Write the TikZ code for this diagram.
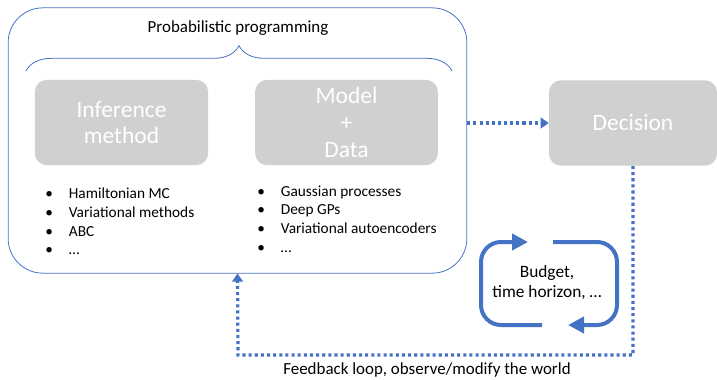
\documentclass[tikz,border=0pt]{standalone}
\usepackage{fontspec}
\setmainfont{Carlito}
\usepackage{xcolor}
\usetikzlibrary{arrows.meta, decorations.pathreplacing, positioning}
\definecolor{lineblue}{HTML}{4472C4}
\definecolor{boxgray}{HTML}{D0D0D0}

\begin{document}
\begin{tikzpicture}[x=0.75pt, y=-0.75pt,
    graybox/.style={fill=boxgray, rounded corners=9pt, text=white, align=center,
        font=\fontsize{17.6}{20}\selectfont, minimum height=64pt, inner sep=0pt},
    dots/.style={lineblue, line width=2.4pt, dash pattern=on 2.3pt off 2.3pt},
    dottip/.style={-{Triangle[length=6pt, width=8pt]}},
    cyclearrow/.style={lineblue, line width=3pt, rounded corners=15pt,
        -{Triangle[length=12pt, width=12pt]}},
    lbl/.style={font=\fontsize{12.7}{15}\selectfont, align=center, inner sep=0pt},
    itemlist/.style={font=\fontsize{11.5}{14}\selectfont, inner sep=0pt, anchor=west}]
    \useasboundingbox (0,0) rectangle (717,379);
    \node[draw=lineblue, line width=0.6pt, rounded corners=26pt, minimum width=344pt,
        minimum height=199pt] (outer) at (237.5,140.5) {};
    \node[lbl] (title) at (238,28) {Probabilistic programming};
    \draw[lineblue, line width=0.6pt, decorate,
        decoration={brace, amplitude=19pt, aspect=0.5}] (26,71) -- (452,71);
    \node[graybox, minimum width=130pt] (infer) at (121.5,122.5) {Inference\\method};
    \node[graybox, minimum width=137pt] (model) at (346.5,122.5) {Model\\+\\Data};
    \node[graybox, minimum width=126pt] (decision) at (633,123) {Decision};
    \node[itemlist] (inferlist) at (45,223) {\begin{tabular}{@{}l@{\hspace{12pt}}l@{}}
        \textbullet & Hamiltonian MC\\
        \textbullet & Variational methods\\
        \textbullet & ABC\\
        \textbullet & \dots
    \end{tabular}};
    \node[itemlist] (modellist) at (257,220.5) {\begin{tabular}{@{}l@{\hspace{12pt}}l@{}}
        \textbullet & Gaussian processes\\
        \textbullet & Deep GPs\\
        \textbullet & Variational autoencoders\\
        \textbullet & \dots
    \end{tabular}};
    \draw[dots, dottip] (outer.east |- decision.west) -- (decision.west);
    \coordinate (fbcorner) at (238,355);
    \draw[dots, dottip] (decision.south) |- (fbcorner) -- (outer.south);
    \node[lbl, anchor=north] (feedback) at (427,362) {Feedback loop, observe/modify the world};
    \node[lbl, font=\fontsize{13}{15}\selectfont] (budget) at (547,283) {Budget,\\time horizon, \dots};
    \draw[cyclearrow] (542,325) -- (481,325) -- (481,242) -- (528,242);
    \draw[cyclearrow] (553,242) -- (617,242) -- (617,325) -- (568,325);
\end{tikzpicture}
\end{document}
